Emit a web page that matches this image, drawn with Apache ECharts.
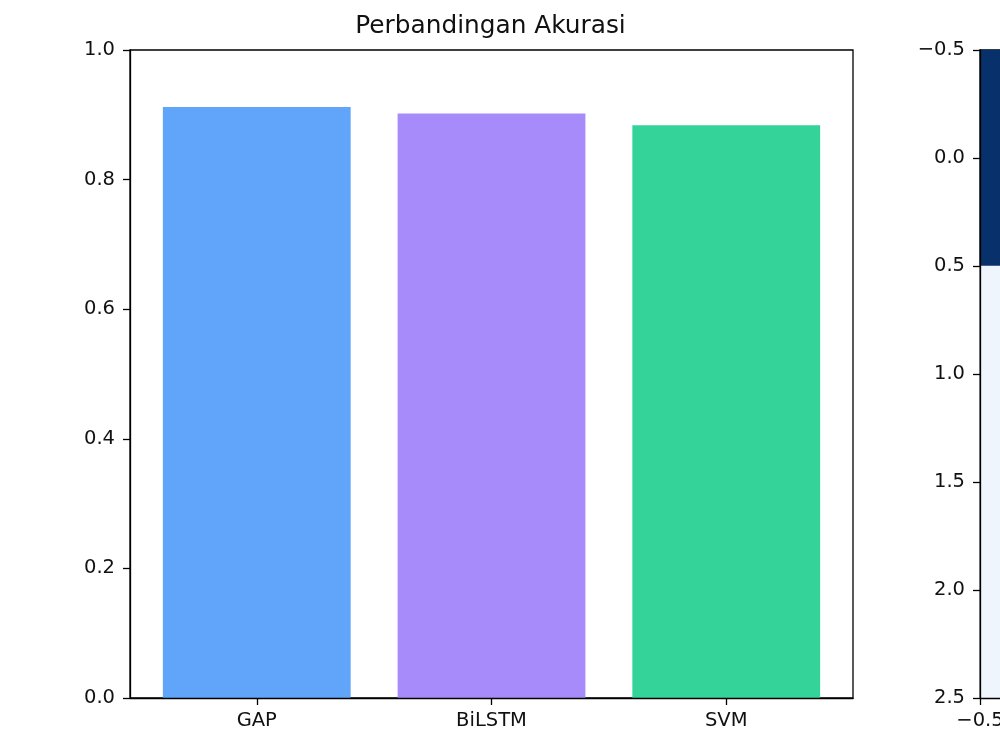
<!DOCTYPE html>
<html>
<head>
<meta charset="utf-8">
<script src="https://cdn.jsdelivr.net/npm/echarts@6/dist/echarts.min.js"></script>
<style>
html,body{margin:0;padding:0;background:#fff;}
#chart{width:1000px;height:750px;}
</style>
</head>
<body>
<div id="chart"></div>
<script>
// ---- data ----
const categories = ['GAP', 'BiLSTM', 'SVM'];
const accuracy = [0.912, 0.902, 0.884];
const barColors = ['#60a5fa', '#a78bfa', '#34d399'];
const yTicks = [0, 0.2, 0.4, 0.6, 0.8, 1.0];
// visible first column of the right-hand image (normalised values)
const heatRows = ['0', '1', '2'];
const heatCols = ['0', '1', '2'];
const heatFirstCol = [1.0, 0.045, 0.045];

const FONT = 'DejaVu Sans';
const TXT = '#111';
const FS = 19.5;

const minusFmt = v => (v < 0 ? '\u2212' : '') + Math.abs(v).toFixed(1);

const chart = echarts.init(document.getElementById('chart'), null, {renderer: 'canvas'});

const barData = categories.map((c, i) => ({
  value: [i, accuracy[i]],
  itemStyle: {color: barColors[i]}
}));
const heatData = heatFirstCol.map((v, r) => [0, r, v]);

const axisCommon = {
  z: 5,
  axisLine: {show: true, onZero: false, lineStyle: {color: '#000', width: 1.3}},
  axisTick: {show: true, inside: false, length: 7, lineStyle: {color: '#000', width: 1.3}},
  splitLine: {show: false},
  axisLabel: {color: TXT, fontFamily: FONT, fontSize: FS}
};

chart.setOption({
  animation: false,
  backgroundColor: '#fff',
  graphic: [{
    type: 'text',
    x: 490.5, y: 27,
    style: {
      text: 'Perbandingan Akurasi',
      font: '24.8px "DejaVu Sans"',
      fill: TXT,
      align: 'center', verticalAlign: 'middle',
      textAlign: 'center', textVerticalAlign: 'middle'
    }
  }],
  grid: [
    {left: 130, top: 50, width: 723, height: 648, show: true, borderColor: '#000', borderWidth: 1.3, backgroundColor: 'transparent'},
    {left: 980, top: 50, width: 648, height: 648, show: true, borderColor: '#000', borderWidth: 1.3, backgroundColor: 'transparent'}
  ],
  xAxis: [
    Object.assign({}, axisCommon, {
      type: 'value', gridIndex: 0, position: 'bottom',
      min: -0.54, max: 2.54,
      axisTick: Object.assign({}, axisCommon.axisTick, {customValues: [0, 1, 2]}),
      axisLabel: Object.assign({}, axisCommon.axisLabel, {
        customValues: [0, 1, 2], margin: 13,
        formatter: v => categories[Math.round(v)]
      })
    }),
    {type: 'category', gridIndex: 1, position: 'bottom', data: heatCols, show: false},
    Object.assign({}, axisCommon, {
      type: 'value', gridIndex: 1, position: 'bottom',
      min: -0.5, max: 2.5, interval: 0.5,
      axisLabel: Object.assign({}, axisCommon.axisLabel, {margin: 13, formatter: minusFmt, showMinLabel: true, showMaxLabel: true})
    })
  ],
  yAxis: [
    Object.assign({}, axisCommon, {
      type: 'value', gridIndex: 0, position: 'left',
      min: 0, max: 1, interval: 0.2,
      axisLabel: Object.assign({}, axisCommon.axisLabel, {margin: 15, formatter: v => v.toFixed(1)})
    }),
    {type: 'category', gridIndex: 1, position: 'left', data: heatRows, inverse: true, show: false},
    Object.assign({}, axisCommon, {
      type: 'value', gridIndex: 1, position: 'left',
      min: -0.5, max: 2.5, interval: 0.5, inverse: true,
      axisLabel: Object.assign({}, axisCommon.axisLabel, {margin: 15, formatter: minusFmt, showMinLabel: true, showMaxLabel: true})
    })
  ],
  visualMap: {
    show: false, type: 'continuous', seriesIndex: 1, min: 0, max: 1, dimension: 2,
    inRange: {color: ['#f7fbff', '#deebf7', '#c6dbef', '#9ecae1', '#6baed6', '#4292c6', '#2171b5', '#08519c', '#08306b']}
  },
  series: [
    {
      type: 'bar', xAxisIndex: 0, yAxisIndex: 0,
      barWidth: '80%',
      data: barData
    },
    {
      type: 'heatmap', xAxisIndex: 1, yAxisIndex: 1,
      data: heatData,
      itemStyle: {borderWidth: 0}
    }
  ]
});
</script>
</body>
</html>
